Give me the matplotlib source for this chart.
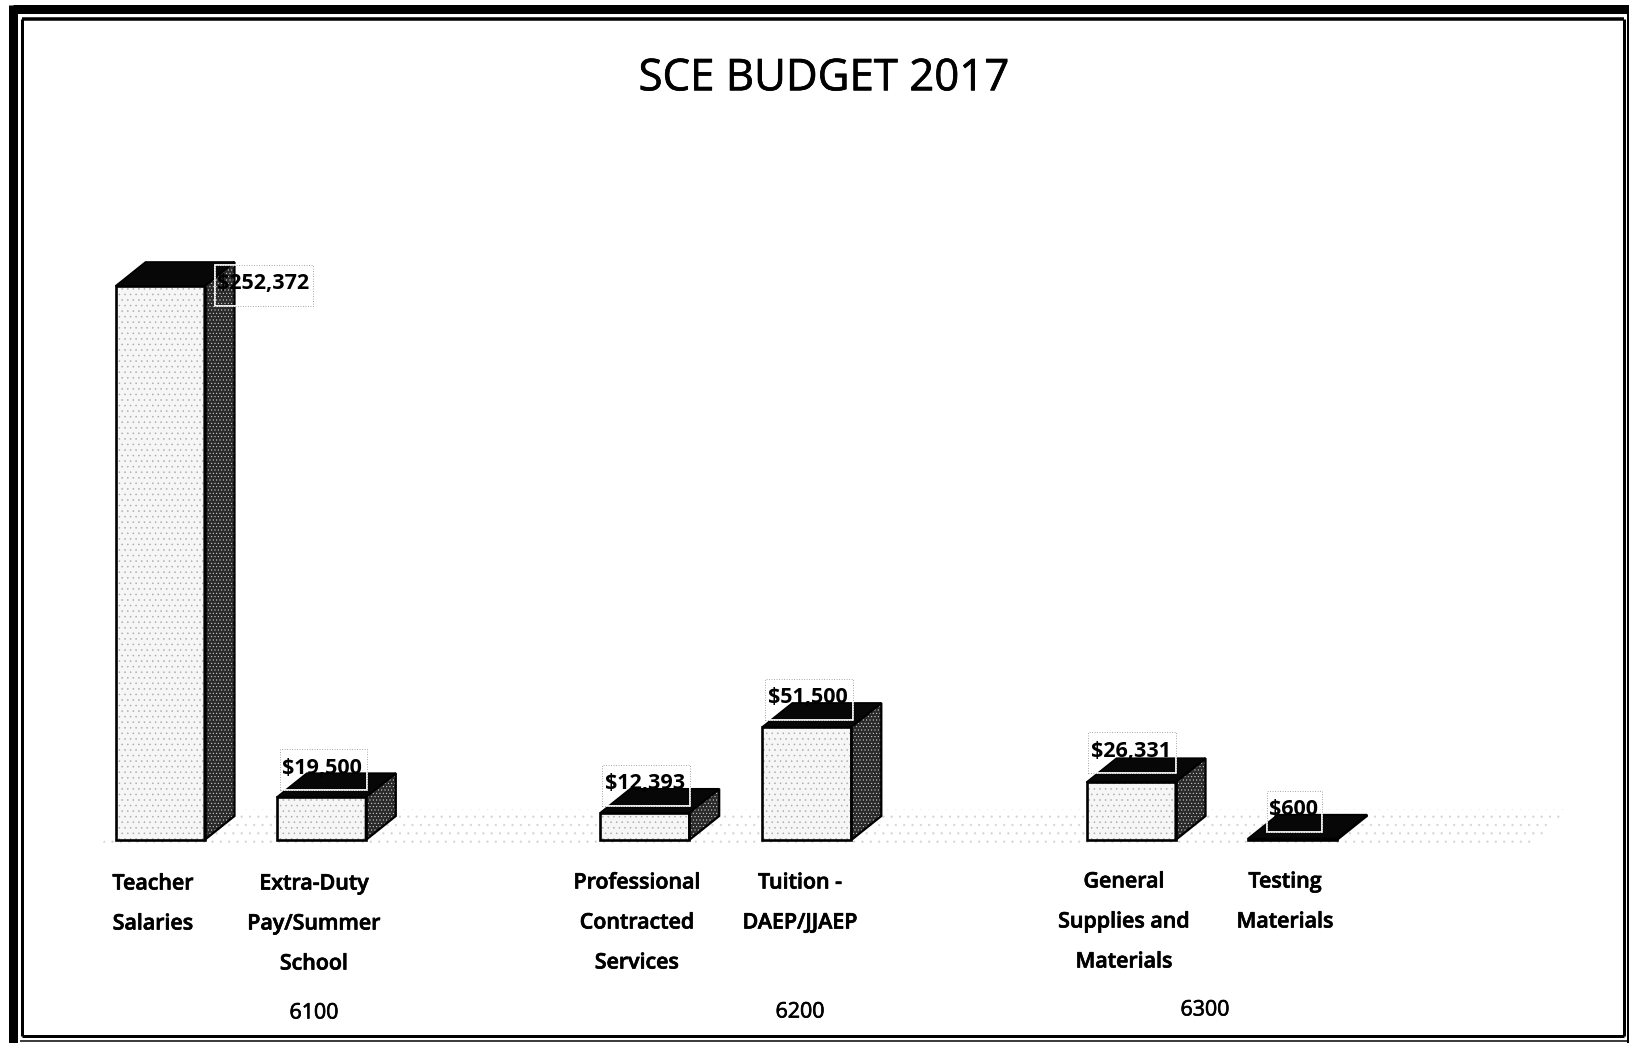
import matplotlib
matplotlib.use("Agg")
import matplotlib.pyplot as plt
import matplotlib.patheffects as pe
from matplotlib.patches import Polygon, Rectangle
from matplotlib.transforms import Affine2D

W, H = 1629, 1043

# chart values
categories = ["Teacher\nSalaries", "Extra-Duty\nPay/Summer\nSchool",
              "Professional\nContracted\nServices", "Tuition -\nDAEP/JJAEP",
              "General\nSupplies and\nMaterials", "Testing\nMaterials"]
values = [252372, 19500, 12393, 51500, 26331, 600]
value_labels = ["$252,372", "$19,500", "$12,393", "$51,500", "$26,331", "$600"]
groups = ["6100", "6200", "6300"]

# layout, in slots along the x axis and picture pixels for the text
slots = [0, 1, 3.005, 4.01, 6.02, 7.02]
label_x = [153, 314, 637, 800, 1124, 1285]
label_y = [884, 884, 883, 883, 882, 882]
group_x = [314, 800, 1205]
group_y = [1013, 1012, 1010]
value_dx = [103, 1, 0, 1, 0, 1]
value_dy = [2, 29, 29, 29, 31, 29]

plt.rcParams["font.family"] = ["Open Sans", "DejaVu Sans"]
plt.rcParams["hatch.linewidth"] = 0.35

fig = plt.figure(figsize=(W / 100, H / 100), dpi=100)
ax = fig.add_axes([0, 0, 1, 1])
ax.axis("off")

# 161.3 px per slot, first bar centred at 160; 554 px for the tallest bar, base at y=840
px_per_slot = 161.3
px_per_dollar = 554 / max(values)
ax.set_xlim(-160 / px_per_slot, (W - 160) / px_per_slot)
ax.set_ylim((840 - H) / px_per_dollar, 840 / px_per_dollar)

# picture pixels (y down) to display
px = Affine2D().scale(1, -1).translate(0, H)

bar_w = 89 / px_per_slot
depth_x = 30 / px_per_slot
depth_y = 24 / px_per_dollar

# frame
for x0, y0, x1, y1, lw in [(12.5, 9, 1629, 9, 9), (12.5, 4.5, 12.5, 1043, 9),
                           (21.5, 19, 1623.5, 19, 3.5), (21.5, 19, 21.5, 1036, 3),
                           (21.5, 1036, 1623.5, 1036, 3), (1623.5, 19, 1623.5, 1036, 3),
                           (1628, 14, 1628, 1043, 2), (20, 1041, 1629, 1041, 1.5)]:
    ax.plot([x0, x1], [y0, y1], color="black", lw=lw * 0.72, transform=px,
            solid_capstyle="butt", clip_on=False)

# stippled floor
ax.add_patch(Polygon([(100, 845), (1530, 845), (1570, 809), (135, 809)], closed=True,
                     facecolor="none", edgecolor="#d2d2d2", hatch="..", lw=0,
                     transform=px, zorder=1))

for slot, val in zip(slots, values):
    x0, x1 = slot - bar_w / 2, slot + bar_w / 2
    front = [(x0, 0), (x1, 0), (x1, val), (x0, val)]
    side = [(x1, 0), (x1 + depth_x, depth_y), (x1 + depth_x, val + depth_y), (x1, val)]
    top = [(x0, val), (x1, val), (x1 + depth_x, val + depth_y), (x0 + depth_x, val + depth_y)]

    ax.add_patch(Polygon(front, facecolor="#f6f6f6", edgecolor="#a8a8a8", hatch="...",
                         lw=0, zorder=3))
    ax.add_patch(Polygon(side, facecolor="#2a2a2a", edgecolor="#e0e0e0", hatch=".....",
                         lw=0, zorder=3))
    ax.add_patch(Polygon(side, facecolor="none", edgecolor="black", lw=1.6, zorder=4))
    ax.add_patch(Polygon(top, facecolor="#070707", edgecolor="black", lw=1.2, zorder=4))
    ax.add_patch(Polygon(front, facecolor="none", edgecolor="black", lw=1.9, zorder=5))

# value labels with their box
for slot, val, lab, dx, dy in zip(slots, values, value_labels, value_dx, value_dy):
    cx, cy = ax.transData.transform((slot, val))
    cx += dx
    cy += dy
    half = len(lab) * 5.4 + 5
    ax.add_patch(Rectangle((cx - half, cy - 22), 2 * half + 2, 41, transform=None, fill=False,
                           edgecolor="white", lw=1.3, zorder=6))
    ax.add_patch(Rectangle((cx - half, cy - 22), 2 * half + 2, 41, transform=None, fill=False,
                           edgecolor="#888888", lw=0.6, ls=(0, (1, 2)), zorder=6))
    ax.text(cx, cy, lab, transform=None, ha="center", va="center", fontsize=15.5,
            fontweight="bold", color="black", zorder=7)

# thicker strokes stand in for the scanned semibold
heavy = [pe.withStroke(linewidth=0.5, foreground="black")]

# category labels, one line at a time for the wide line pitch
for name, x, y in zip(categories, label_x, label_y):
    for i, line in enumerate(name.split("\n")):
        ax.text(x, y + i * 40, line, transform=px, ha="center", va="center",
                fontsize=15.4, fontweight="semibold", color="black", path_effects=heavy)

for name, x, y in zip(groups, group_x, group_y):
    ax.text(x, y, name, transform=px, ha="center", va="center", fontsize=15.4,
            fontweight="medium", color="black", path_effects=heavy)

ax.text(824, 79, "SCE BUDGET 2017", transform=px, ha="center", va="center",
        fontsize=31.5, color="black", path_effects=heavy)

fig.savefig("out.png", dpi=100)
